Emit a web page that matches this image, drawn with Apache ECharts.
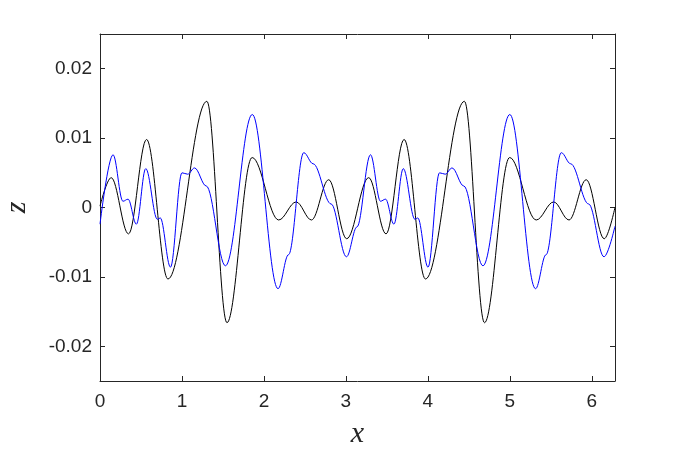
<!DOCTYPE html>
<html>
<head>
<meta charset="utf-8">
<script src="https://cdn.jsdelivr.net/npm/echarts@6/dist/echarts.min.js"></script>
<style>
  html, body { margin: 0; padding: 0; background: #fff; }
  #chart { width: 680px; height: 454px; }
</style>
</head>
<body>
<div id="chart"></div>
<script>
// extrema / shoulders
var blackX = [0.000, 0.136, 0.348, 0.568, 0.829, 1.304, 1.549, 1.856, 2.180, 2.393, 2.580, 2.790, 3.010,
              3.278, 3.490, 3.710, 3.971, 4.446, 4.691, 4.998, 5.322, 5.535, 5.722, 5.932, 6.152, 6.283];
var blackZ = [0.0002, 0.0043, -0.0038, 0.0098, -0.0103, 0.0153, -0.0166, 0.0072, -0.0018, 0.0008, -0.0018, 0.0040, -0.0045,
              0.0043, -0.0038, 0.0098, -0.0103, 0.0153, -0.0166, 0.0072, -0.0018, 0.0008, -0.0018, 0.0040, -0.0045, 0.0000];

var blueX = [0.000, 0.159, 0.280, 0.342, 0.444, 0.558, 0.700, 0.735, 0.860, 1.000, 1.070, 1.153, 1.296, 1.530,
             1.858, 2.172, 2.300, 2.486, 2.600, 2.820, 3.007, 3.135,
             3.300, 3.422, 3.484, 3.586, 3.700, 3.842, 3.877, 4.002, 4.142, 4.212, 4.295, 4.438, 4.672,
             5.000, 5.314, 5.442, 5.628, 5.742, 5.962, 6.149, 6.283];
var blueZ = [-0.0024, 0.0076, 0.0009, 0.0012, -0.0024, 0.0056, -0.0017, -0.0015, -0.0086, 0.0050, 0.0048, 0.0057, 0.0031, -0.0084,
             0.0134, -0.0117, -0.0068, 0.0079, 0.0063, 0.0005, -0.0071, -0.0028,
             0.0076, 0.0009, 0.0012, -0.0024, 0.0056, -0.0017, -0.0015, -0.0086, 0.0050, 0.0048, 0.0057, 0.0031, -0.0084,
             0.0134, -0.0117, -0.0068, 0.0079, 0.0063, 0.0005, -0.0071, -0.0027];

var xTicks = [0, 1, 2, 3, 4, 5, 6];
var yTicks = [-0.02, -0.01, 0, 0.01, 0.02];
var yTickLabels = ['-0.02', '-0.01', '0', '0.01', '0.02'];

function pairs(xs, zs) {
  return xs.map(function (x, i) { return [x, zs[i]]; });
}

function xLabel(v) {
  for (var i = 0; i < xTicks.length; i++) {
    if (Math.abs(v - xTicks[i]) < 1e-6) return String(xTicks[i]);
  }
  return '';
}

function yLabel(v) {
  for (var i = 0; i < yTicks.length; i++) {
    if (Math.abs(v - yTicks[i]) < 1e-6) return yTickLabels[i];
  }
  return '';
}

var axisColor = '#262626';
var labelFont = { fontFamily: 'Liberation Sans', fontSize: 19, color: axisColor };
var nameFont = { fontFamily: 'Liberation Serif', fontStyle: 'italic', fontSize: 30, color: axisColor };

function boxAxis(extra) {
  return Object.assign({
    type: 'value',
    axisLine: { show: true, onZero: false, lineStyle: { color: axisColor, width: 1 } },
    axisTick: { show: true, inside: true, length: 5, lineStyle: { color: axisColor } },
    splitLine: { show: false }
  }, extra);
}

var chart = echarts.init(document.getElementById('chart'));
chart.setOption({
  animation: false,
  backgroundColor: '#fff',
  grid: { left: 100, top: 34, right: 65, bottom: 73, containLabel: false, outerBoundsMode: 'none' },
  xAxis: [
    boxAxis({
      position: 'bottom', min: 0, max: 6.2832, interval: 1,
      name: 'x', nameLocation: 'middle', nameGap: 38, nameTextStyle: nameFont,
      axisLabel: Object.assign({ margin: 11, formatter: xLabel }, labelFont)
    }),
    boxAxis({
      position: 'top', min: 0, max: 6.2832, interval: 1,
      axisLabel: { show: false }
    })
  ],
  yAxis: [
    boxAxis({
      position: 'left', min: -0.025, max: 0.025, splitNumber: 5,
      name: 'z', nameLocation: 'middle', nameGap: 68, nameRotate: 90, nameTextStyle: nameFont,
      axisLabel: Object.assign({ margin: 8, formatter: yLabel }, labelFont)
    }),
    boxAxis({
      position: 'right', min: -0.025, max: 0.025, splitNumber: 5,
      axisLabel: { show: false }
    })
  ],
  series: [
    {
      type: 'line',
      data: pairs(blackX, blackZ),
      showSymbol: false,
      smooth: 0.36,
      smoothMonotone: 'x',
      lineStyle: { color: '#000000', width: 1 }
    },
    {
      type: 'line',
      data: pairs(blueX, blueZ),
      showSymbol: false,
      smooth: 0.36,
      smoothMonotone: 'x',
      lineStyle: { color: '#0000ff', width: 1 }
    }
  ]
});
</script>
</body>
</html>
